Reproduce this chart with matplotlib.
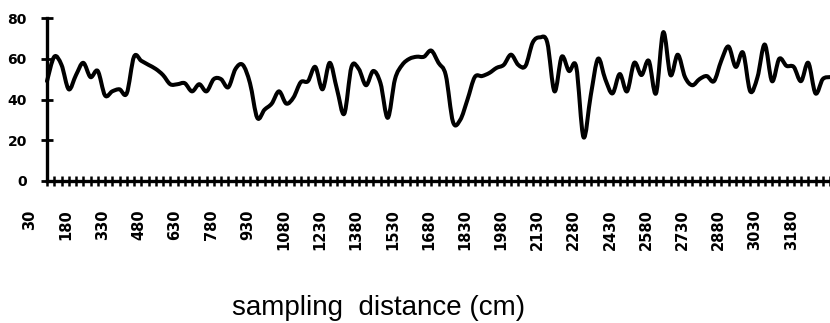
import numpy as np
import matplotlib
matplotlib.use("Agg")
import matplotlib.pyplot as plt
from matplotlib.path import Path
from matplotlib.patches import PathPatch
from matplotlib.transforms import ScaledTranslation

# sampling positions (cm), one reading every 30 cm
distance = np.arange(30, 3271, 30)

# readings taken off the scanned chart
values = [49, 61, 57, 45, 52, 58, 51, 54, 42, 44,
          45, 43, 61, 59, 57, 55, 52, 47.5, 47.5, 48,
          44, 47.5, 44, 50, 50, 46, 55, 57, 48, 31,
          35, 38, 44, 38, 41, 48.5, 49, 56, 45, 58,
          45, 33, 56, 55, 47, 54, 48, 31, 50, 57,
          60, 61, 61, 64, 58, 52, 29, 30, 40, 51,
          51.5, 53, 55.5, 57, 62, 57, 56.5, 68, 70.5, 68,
          44, 61, 54, 56, 21.5, 42, 60, 50, 43, 52.5,
          44, 58, 52, 59, 43, 73, 52, 62, 51, 47,
          50, 51.5, 49, 59, 66, 56, 63, 44, 51, 67,
          49, 60, 56.5, 56, 49, 58, 43, 50, 51]

label_pos = list(range(30, 3181, 150))
y_ticks = [0, 20, 40, 60, 80]

fig = plt.figure(figsize=(8.30, 3.23), dpi=100)
ax = fig.add_axes([47 / 830, 1 - 181 / 323, 783 / 830, 163 / 323])

# smoothed line (Excel style bezier through every reading)
x = np.asarray(distance, dtype=float)
y = np.asarray(values, dtype=float)
verts = [(x[0], y[0])]
codes = [Path.MOVETO]
n = len(x)
for i in range(n - 1):
    p0 = np.array([x[max(i - 1, 0)], y[max(i - 1, 0)]])
    p1 = np.array([x[i], y[i]])
    p2 = np.array([x[i + 1], y[i + 1]])
    p3 = np.array([x[min(i + 2, n - 1)], y[min(i + 2, n - 1)]])
    c1 = p1 + (p2 - p0) / 6
    c2 = p2 - (p3 - p1) / 6
    verts += [tuple(c1), tuple(c2), tuple(p2)]
    codes += [Path.CURVE4] * 3
ax.add_patch(PathPatch(Path(verts, codes), facecolor="none", edgecolor="black",
                       lw=2.9, joinstyle="round", capstyle="round", clip_on=False))

ax.set_xlim(distance[0], distance[-1])
ax.set_ylim(0, 80)

for s in ["top", "right"]:
    ax.spines[s].set_visible(False)
ax.spines["left"].set_linewidth(2.4)
ax.spines["bottom"].set_linewidth(2.4)

ax.set_yticks(y_ticks)
ax.set_yticklabels([str(v) for v in y_ticks], fontsize=10, fontweight="heavy")
ax.tick_params(axis="y", direction="inout", length=9, width=2, pad=10)

ax.set_xticks(label_pos)
ax.set_xticks(distance, minor=True)
ax.tick_params(axis="x", which="both", direction="inout", length=7, width=1.8)
ax.tick_params(axis="x", which="major", pad=17)
ax.set_xticklabels([str(v) for v in label_pos], rotation=90, fontsize=10.5,
                   fontweight="heavy", va="top", ha="center")

shift = ScaledTranslation(-17 / 100, 0, fig.dpi_scale_trans)
for lbl in ax.get_xticklabels():
    lbl.set_transform(lbl.get_transform() + shift)

fig.text(379 / 830, 8 / 323, "sampling  distance (cm)", ha="center", va="baseline",
         fontsize=20, family="Liberation Sans")

fig.savefig("out.png", dpi=100)
